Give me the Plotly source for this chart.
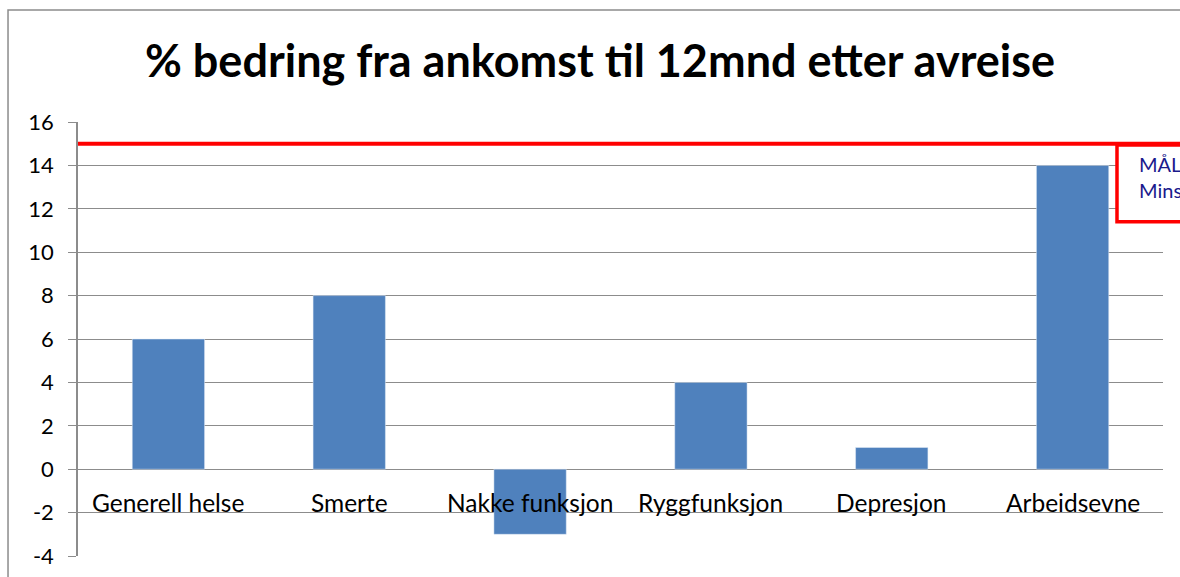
import plotly.graph_objects as go

categories = ["Generell helse", "Smerte", "Nakke funksjon", "Ryggfunksjon", "Depresjon", "Arbeidsevne"]
improvement = [6, 8, -3, 4, 1, 14]
target = 15
y_ticks = [-4, -2, 0, 2, 4, 6, 8, 10, 12, 14, 16]

grid = "#8c8c8c"
font = "Lato, Open Sans, sans-serif"

fig = go.Figure()
fig.add_trace(go.Bar(
    x=categories, y=improvement,
    marker_color="#4F81BD", width=0.4,
    showlegend=False
))

# category labels sit just below the zero line, like the original
for cat in categories:
    fig.add_annotation(x=cat, y=-1.55, text=cat, showarrow=False,
                       font=dict(size=24.5, color="black", family=font))

fig.add_shape(type="line", xref="paper", yref="y", x0=0, x1=1.2, y0=target, y1=target,
              line=dict(color="#FF0000", width=4), layer="above")
fig.add_shape(type="rect", xref="paper", yref="paper", x0=0.9576, x1=1.1, y0=0.77, y1=0.947,
              line=dict(color="#FF0000", width=3.5), fillcolor="white", layer="above")
fig.add_annotation(xref="paper", yref="paper", x=0.976, y=0.935, xanchor="left", yanchor="top",
                   align="left", showarrow=False, text="MÅL:<br>Minst 15%",
                   font=dict(size=20, color="#1A1A8C", family=font))

# outer chart frame
fig.add_shape(type="rect", xref="paper", yref="paper", x0=-0.0645, x1=1.3, y0=-0.2, y1=1.258,
              line=dict(color="#8c8c8c", width=1.5), layer="below")

fig.update_layout(
    width=1180, height=577,
    margin=dict(l=78, r=17, t=122, b=21, autoexpand=False),
    paper_bgcolor="white", plot_bgcolor="white",
    title=dict(text="<b>% bedring fra ankomst til 12mnd etter avreise</b>",
               x=0.5085, xanchor="center", y=0.894, yanchor="middle",
               font=dict(size=45, color="black", family=font)),
    font=dict(family=font, color="black"),
    bargap=0.6,
)
fig.update_xaxes(showticklabels=False, showgrid=False, showline=False, zeroline=False,
                 range=[-0.5, 5.5], automargin=False)
fig.update_yaxes(range=[-4, 16], tickvals=y_ticks, ticktext=[str(v) for v in y_ticks],
                 showgrid=True, gridcolor=grid, gridwidth=1.3,
                 zeroline=True, zerolinecolor=grid, zerolinewidth=1.3,
                 showline=True, linecolor=grid, linewidth=1.5,
                 ticks="outside", ticklen=8, tickcolor=grid, tickwidth=1.3,
                 ticklabelstandoff=10, automargin=False,
                 tickfont=dict(size=22, family=font, color="black"))

fig.write_html("out.html", config={"displayModeBar": False},
               post_script="document.body.style.margin='0';")
